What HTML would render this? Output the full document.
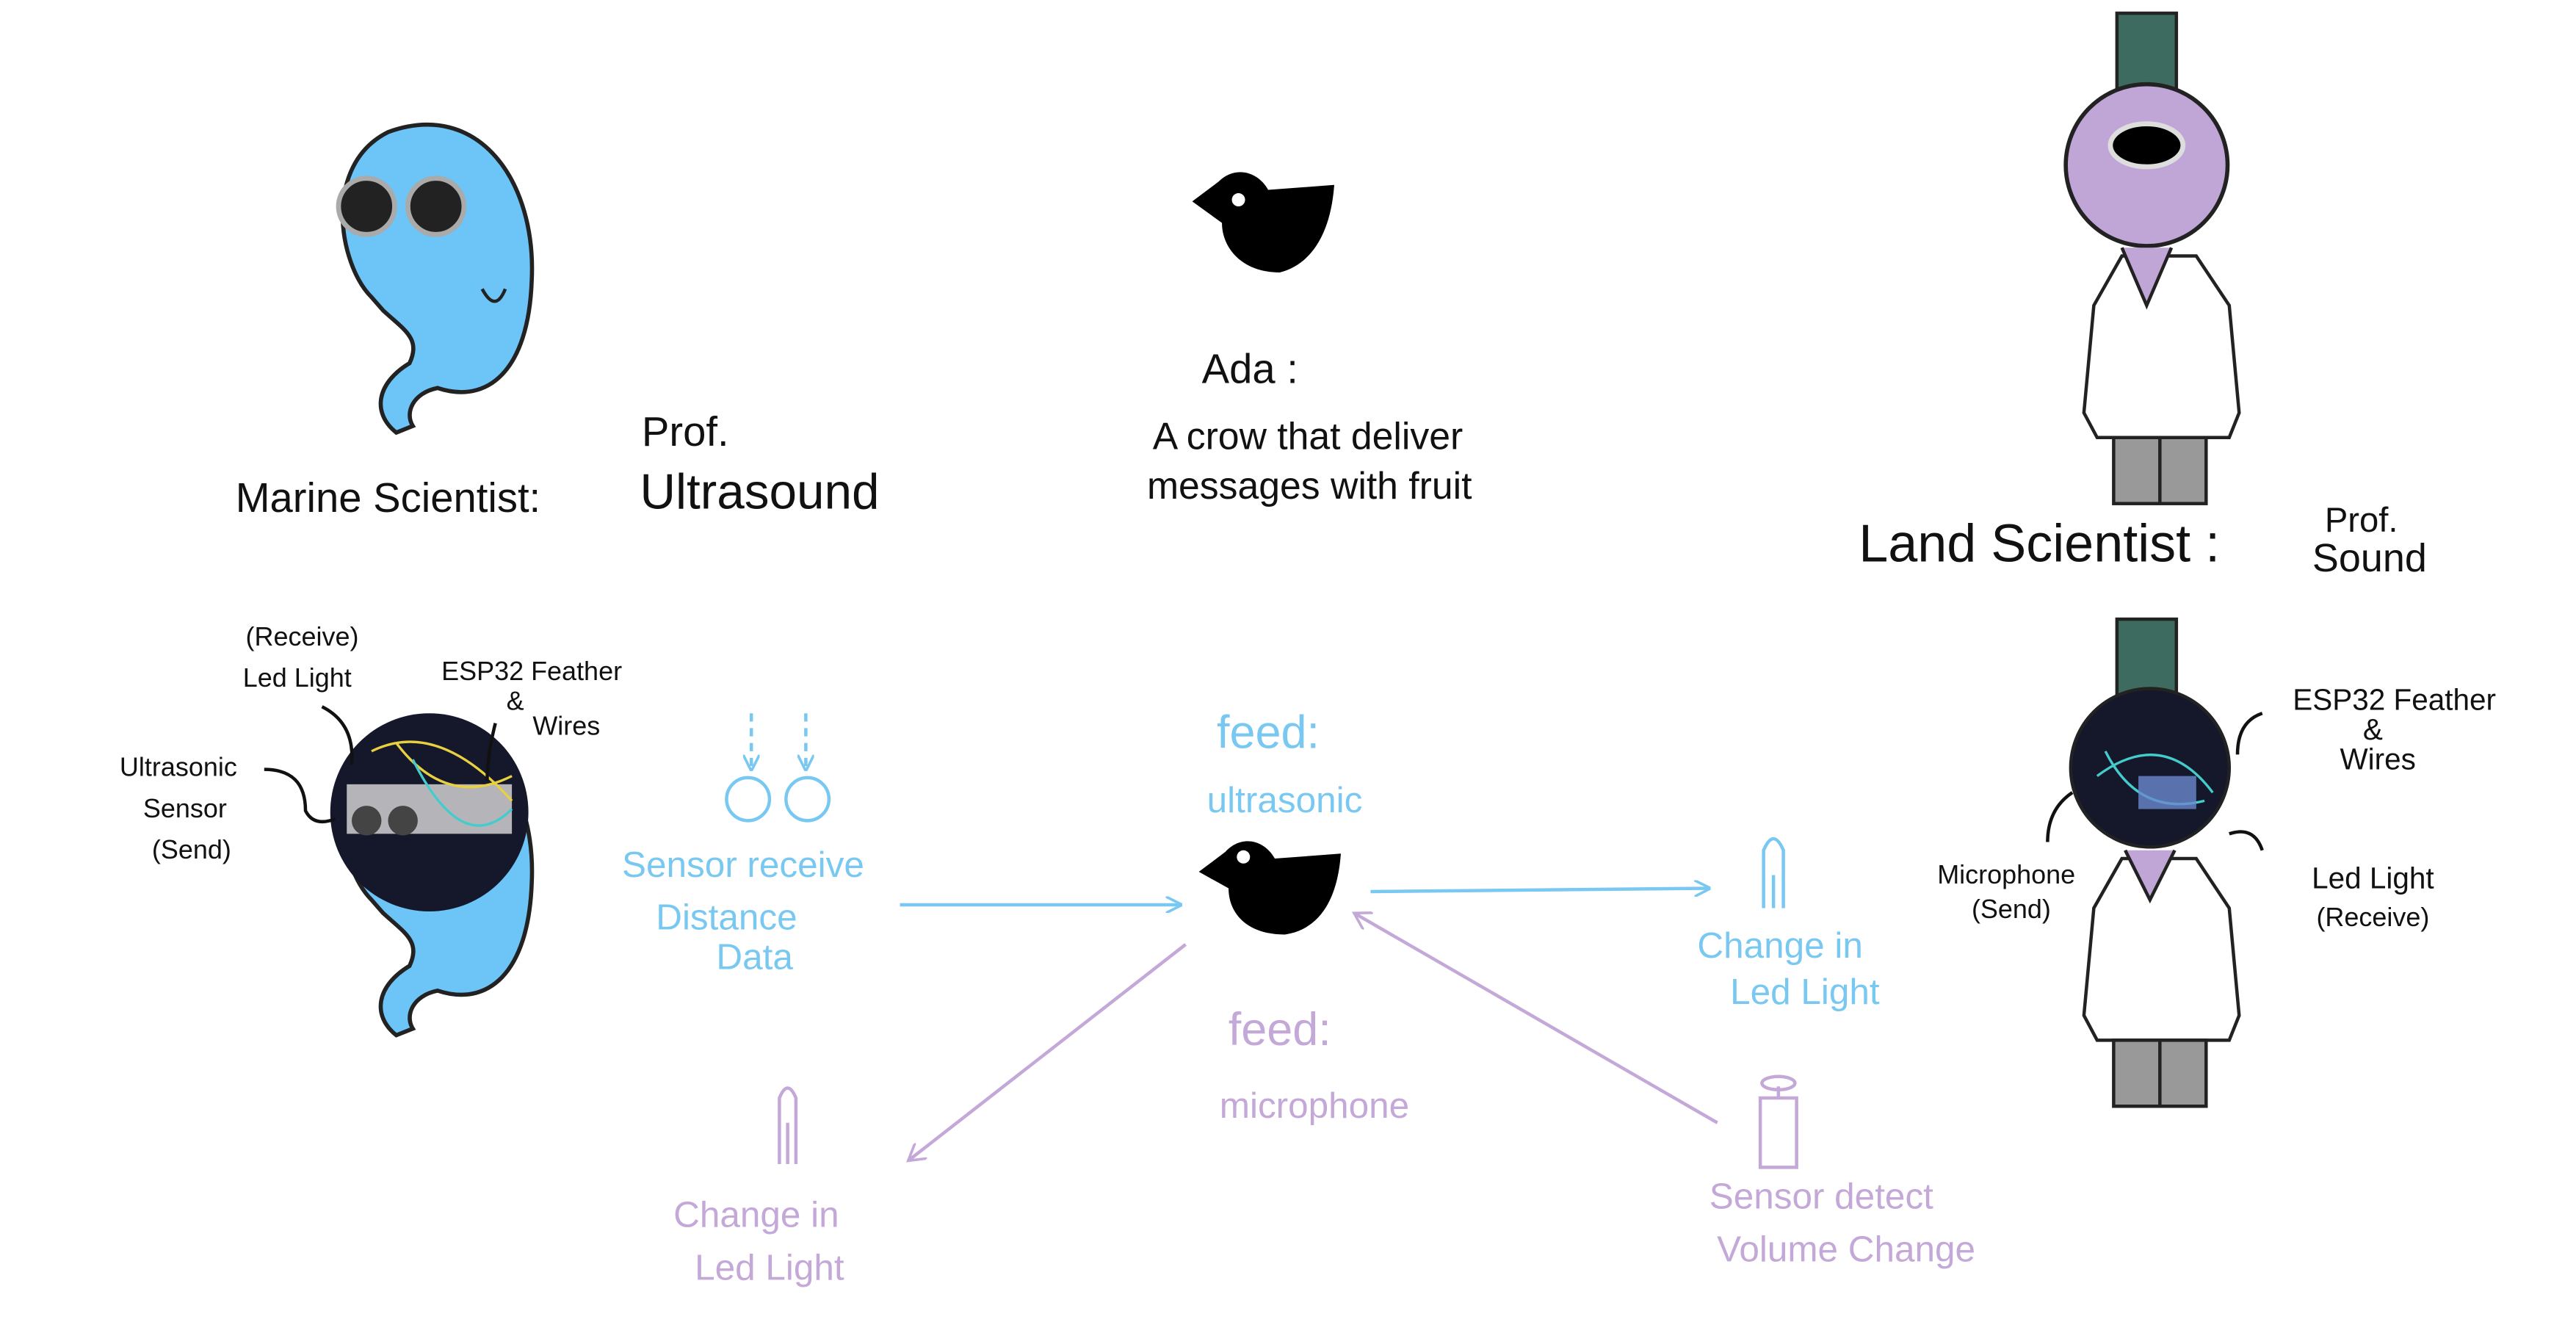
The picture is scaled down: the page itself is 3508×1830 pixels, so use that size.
<!DOCTYPE html>
<html><head><meta charset="utf-8"><style>
html,body{margin:0;padding:0;background:#fff;width:3508px;height:1830px;overflow:hidden}
svg{display:block}
text{font-family:"Liberation Sans",sans-serif;text-anchor:middle}
</style></head><body>
<svg width="3508" height="1830" viewBox="0 0 1560 814" preserveAspectRatio="none">
<defs>
<marker id="ab" markerWidth="10" markerHeight="10" refX="9" refY="5" orient="auto" markerUnits="userSpaceOnUse"><path d="M0,0 L10,5 L0,10" fill="none" stroke="#79c8f2" stroke-width="1.6"/></marker>
<marker id="ap" markerWidth="12" markerHeight="12" refX="10" refY="6" orient="auto" markerUnits="userSpaceOnUse"><path d="M0,0 L10,6 L0,12" fill="none" stroke="#c4a8d8" stroke-width="1.6"/></marker>
<g id="whale">
<path d="M235,80 C290,60 325,110 322,170 C320,225 295,245 265,235 C250,238 245,250 250,258 L240,262 C225,250 228,232 248,220 C255,205 245,200 232,188 L225,180 C205,160 195,100 235,80 Z" fill="#6cc4f7" stroke="#222" stroke-width="2.5"/>
</g>
<g id="coat">
<path d="M1285,155 L1268,185 L1262,250 L1270,265 L1350,265 L1356,250 L1350,185 L1330,155 Z" fill="#fff" stroke="#222" stroke-width="2"/>
</g>
</defs>
<use href="#whale"/>
<circle cx="222" cy="125" r="17" fill="#222" stroke="#aaa" stroke-width="3"/>
<circle cx="264" cy="125" r="17" fill="#222" stroke="#aaa" stroke-width="3"/>
<path d="M292,175 q8,15 14,0" fill="none" stroke="#222" stroke-width="2"/>
<path d="M722,122 L738,110 C748,100 762,104 768,115 L808,112 C806,140 795,160 775,165 C752,165 740,150 740,135 Z" fill="#000"/>
<circle cx="750" cy="121" r="4" fill="#fff"/>
<g fill="#111" font-size="25">
<text x="757" y="232">Ada :</text>
<text x="792" y="272" font-size="23">A crow that deliver</text>
<text x="793" y="302" font-size="23">messages with fruit</text>
<text x="415" y="270">Prof.</text>
<text x="235" y="310" font-size="25">Marine Scientist:</text>
<text x="460" y="308" font-size="30">Ultrasound</text>
<text x="1235" y="340" font-size="32">Land Scientist :</text>
<text x="1430" y="322" font-size="21">Prof.</text>
<text x="1435" y="346" font-size="24">Sound</text>
</g>
<rect x="1282" y="8" width="36" height="62" fill="#3d6b60" stroke="#222" stroke-width="2"/>
<use href="#coat"/>
<rect x="1280" y="265" width="56" height="40" fill="#999" stroke="#222" stroke-width="2"/>
<line x1="1308" y1="265" x2="1308" y2="305" stroke="#222" stroke-width="2"/>
<circle cx="1300" cy="100" r="49" fill="#c0a6d6" stroke="#222" stroke-width="2.5"/>
<ellipse cx="1300" cy="88" rx="22" ry="13" fill="#000" stroke="#ddd" stroke-width="3"/>
<path d="M1285,150 L1300,185 L1315,150" fill="#c0a6d6" stroke="#222" stroke-width="2"/>
<g transform="translate(0,365)"><use href="#whale"/></g>
<circle cx="260" cy="492" r="60" fill="#15182a"/>
<rect x="210" y="475" width="100" height="30" fill="#ddd" opacity="0.8"/>
<circle cx="222" cy="497" r="9" fill="#444"/><circle cx="244" cy="497" r="9" fill="#444"/>
<path d="M225,455 q40,-20 85,30 M240,450 q30,40 70,20" fill="none" stroke="#e8d040" stroke-width="1.5"/>
<path d="M250,460 q30,60 60,30" fill="none" stroke="#4cc" stroke-width="1.5"/>
<g fill="#111" font-size="16">
<text x="183" y="391">(Receive)</text>
<text x="180" y="416">Led Light</text>
<text x="322" y="412">ESP32 Feather</text>
<text x="312" y="430">&amp;</text>
<text x="343" y="445">Wires</text>
<text x="108" y="470">Ultrasonic</text>
<text x="112" y="495">Sensor</text>
<text x="116" y="520">(Send)</text>
</g>
<path d="M195,428 q20,10 18,35 M300,438 q-5,20 -5,35 M160,466 q25,0 25,25 q5,10 18,5" fill="none" stroke="#111" stroke-width="2"/>
<g stroke="#79c8f2" stroke-width="2" fill="none">
<line x1="455" y1="432" x2="455" y2="466" stroke-dasharray="5 4" marker-end="url(#ab)"/>
<line x1="488" y1="432" x2="488" y2="466" stroke-dasharray="5 4" marker-end="url(#ab)"/>
<circle cx="453" cy="484" r="13"/><circle cx="489" cy="484" r="13"/>
<line x1="545" y1="548" x2="715" y2="548" marker-end="url(#ab)"/>
<line x1="830" y1="540" x2="1035" y2="538" marker-end="url(#ab)"/>
<path d="M1068,550 L1068,515 q6,-14 12,0 L1080,550 M1074,530 v20"/>
</g>
<g fill="#79c8f2" font-size="22">
<text x="450" y="531">Sensor receive</text>
<text x="440" y="563">Distance</text>
<text x="457" y="587">Data</text>
<text x="768" y="453" font-size="28">feed:</text>
<text x="778" y="492">ultrasonic</text>
<text x="1078" y="580">Change in</text>
<text x="1093" y="608">Led Light</text>
</g>
<path d="M726,528 L742,516 C752,505 766,509 772,520 L812,517 C810,545 799,563 778,566 C755,566 744,553 744,538 Z" fill="#000"/>
<circle cx="753" cy="519" r="4" fill="#fff"/>
<g stroke="#c4a8d8" stroke-width="2" fill="none">
<line x1="718" y1="572" x2="550" y2="703" marker-end="url(#ap)"/>
<line x1="1040" y1="680" x2="820" y2="553" marker-end="url(#ap)"/>
<path d="M472,705 L472,665 q5,-12 10,0 L482,705 M477,680 v25"/>
<rect x="1066" y="665" width="22" height="42"/>
<line x1="1077" y1="665" x2="1077" y2="658"/>
<ellipse cx="1077" cy="656" rx="10" ry="4"/>
</g>
<g fill="#c4a8d8" font-size="22">
<text x="775" y="633" font-size="28">feed:</text>
<text x="796" y="677">microphone</text>
<text x="458" y="743">Change in</text>
<text x="466" y="775">Led Light</text>
<text x="1103" y="732">Sensor detect</text>
<text x="1118" y="764">Volume Change</text>
</g>
<rect x="1282" y="375" width="36" height="62" fill="#3d6b60" stroke="#222" stroke-width="2"/>
<g transform="translate(0,365)"><use href="#coat"/></g>
<rect x="1280" y="630" width="56" height="40" fill="#999" stroke="#222" stroke-width="2"/>
<line x1="1308" y1="630" x2="1308" y2="670" stroke="#222" stroke-width="2"/>
<circle cx="1302" cy="465" r="48" fill="#15182a" stroke="#222" stroke-width="2"/>
<path d="M1270,470 q40,-30 70,10 M1275,455 q20,40 60,30" fill="none" stroke="#4cc" stroke-width="1.5"/>
<rect x="1295" y="470" width="35" height="20" fill="#6a8ad0" opacity="0.8"/>
<path d="M1287,515 L1302,545 L1317,515" fill="#c0a6d6" stroke="#222" stroke-width="2"/>
<g fill="#111" font-size="18">
<text x="1450" y="430">ESP32 Feather</text>
<text x="1437" y="448">&amp;</text>
<text x="1440" y="466">Wires</text>
<text x="1215" y="535" font-size="16">Microphone</text>
<text x="1218" y="556" font-size="16">(Send)</text>
<text x="1437" y="538">Led Light</text>
<text x="1437" y="561" font-size="16">(Receive)</text>
</g>
<path d="M1370,432 q-15,5 -15,25 M1255,480 q-15,10 -15,30 M1350,505 q15,-5 20,10" fill="none" stroke="#111" stroke-width="2"/>
</svg>
</body></html>
